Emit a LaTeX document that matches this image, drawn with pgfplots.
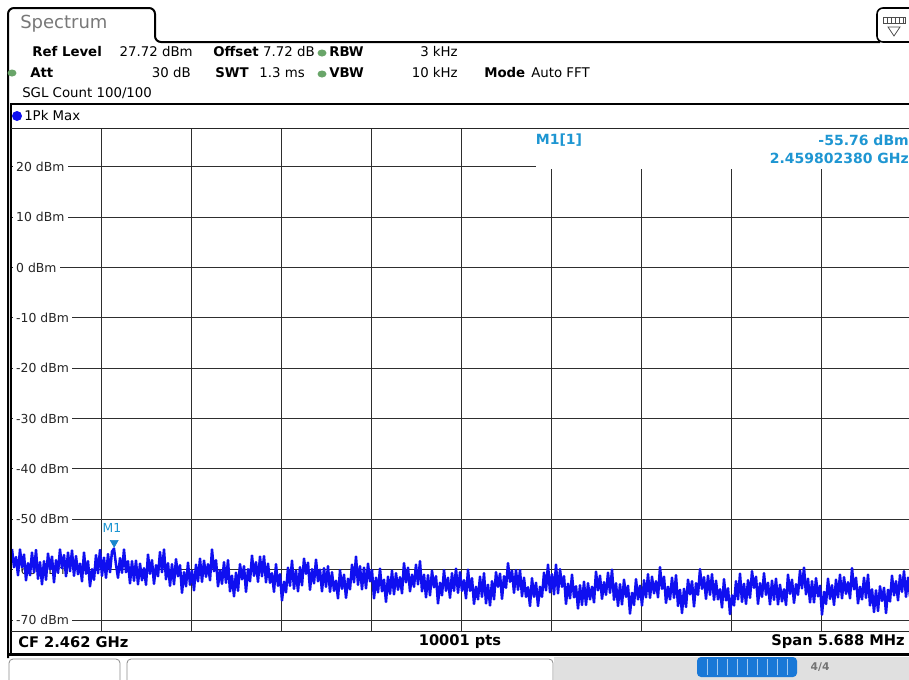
\documentclass[border=0pt]{standalone}
\usepackage{pgfplots}
\pgfplotsset{compat=1.18}
\usepackage{fontspec}
\setmainfont{DejaVu Sans}
\definecolor{traceblue}{RGB}{15,15,240}
\definecolor{mblue}{RGB}{30,150,210}
\definecolor{mtri}{RGB}{25,135,205}
\definecolor{gdot}{RGB}{105,165,105}
\definecolor{tabgray}{RGB}{120,120,120}
\definecolor{barblue}{RGB}{25,120,215}
\newcommand\hf{\fontsize{9.3}{11}\selectfont}
\newcommand\uf{\fontsize{10}{12}\selectfont}
\newcommand\ff{\fontsize{11}{13}\selectfont\bfseries}
\tikzset{ylab/.style={fill=white, anchor=west, inner xsep=2.5pt, inner ysep=1pt, font=\hf, text=black!85}}
\begin{document}
\begin{tikzpicture}
\useasboundingbox (0pt,0pt) rectangle (681.75pt,-509.25pt);
\fill[white] (0pt,0pt) rectangle (681.75pt,-509.25pt);
\begin{axis}[
  at={(9pt,-473.625pt)}, anchor=south west,
  scale only axis, width=674.25pt, height=377.625pt,
  xmin=0, xmax=449.5, ymin=-72.28, ymax=27.72,
  axis line style={draw=none},
  xtick={44.95,89.9,134.85,179.8,224.75,269.7,314.65,359.6,404.55},
  ytick={-70,-60,-50,-40,-30,-20,-10,0,10,20},
  xticklabels={}, yticklabels={},
  major tick length=0pt,
  grid=major,
  major grid style={black!82, line width=0.75pt},
  clip=true,
]
\node[ylab] at (axis cs:0.3,20) {20 dBm};
\node[ylab] at (axis cs:0.3,10) {10 dBm};
\node[ylab] at (axis cs:0.3,0) {0 dBm};
\node[ylab] at (axis cs:0.3,-10) {-10 dBm};
\node[ylab] at (axis cs:0.3,-20) {-20 dBm};
\node[ylab] at (axis cs:0.3,-30) {-30 dBm};
\node[ylab] at (axis cs:0.3,-40) {-40 dBm};
\node[ylab] at (axis cs:0.3,-50) {-50 dBm};
\node[ylab] at (axis cs:0.3,-60) {-60 dBm};
\node[ylab] at (axis cs:0.3,-70) {-70 dBm};
\addplot[traceblue, line width=1.9pt, line join=round] coordinates {
(0,-55.9) (1,-59.5) (2,-57.5) (3,-61.1) (4,-56.0) (5,-59.5) (6,-57.0) (7,-62.1) (8,-58.7) (9,-61.1) (10,-56.6) (11,-60.5) (12,-56.1) (13,-61.8) (14,-58.5) (15,-62.9)
(16,-58.3) (17,-62.0) (18,-56.8) (19,-59.9) (20,-57.4) (21,-62.5) (22,-58.1) (23,-60.6) (24,-56.0) (25,-59.7) (26,-57.1) (27,-61.3) (28,-56.6) (29,-60.3) (30,-56.2) (31,-61.2)
(32,-57.3) (33,-60.9) (34,-58.8) (35,-62.3) (36,-56.6) (37,-60.8) (38,-58.3) (39,-63.3) (40,-59.9) (41,-62.0) (42,-57.1) (43,-60.7) (44,-56.1) (45,-61.2) (46,-57.6) (47,-61.6)
(48,-56.9) (49,-60.5) (50,-56.4) (51,-55.8) (52,-59.0) (53,-61.6) (54,-57.7) (55,-60.6) (56,-56.0) (57,-60.5) (58,-58.3) (59,-62.7) (60,-58.3) (61,-62.2) (62,-58.2) (63,-62.9)
(64,-58.8) (65,-62.1) (66,-59.7) (67,-63.0) (68,-57.0) (69,-60.8) (70,-58.1) (71,-62.8) (72,-59.1) (73,-61.3) (74,-56.5) (75,-60.5) (76,-56.0) (77,-61.9) (78,-58.7) (79,-63.2)
(80,-58.9) (81,-62.9) (82,-57.9) (83,-61.3) (84,-59.1) (85,-64.6) (86,-60.5) (87,-63.3) (88,-58.6) (89,-63.0) (90,-60.2) (91,-64.1) (92,-59.0) (93,-62.3) (94,-57.8) (95,-62.4)
(96,-58.2) (97,-61.4) (98,-58.9) (99,-62.1) (100,-56.0) (101,-60.3) (102,-58.1) (103,-63.3) (104,-60.1) (105,-62.8) (106,-58.5) (107,-62.6) (108,-58.1) (109,-64.3) (110,-61.2) (111,-65.3)
(112,-60.6) (113,-64.2) (114,-58.9) (115,-61.9) (116,-59.3) (117,-64.4) (118,-59.9) (119,-62.3) (120,-57.2) (121,-61.2) (122,-58.5) (123,-62.4) (124,-57.4) (125,-61.3) (126,-57.3) (127,-62.5)
(128,-58.8) (129,-62.6) (130,-60.7) (131,-64.4) (132,-58.9) (133,-63.2) (134,-60.9) (135,-66.1) (136,-62.4) (137,-64.5) (138,-59.6) (139,-63.2) (140,-58.2) (141,-63.8) (142,-60.2) (143,-64.3)
(144,-59.5) (145,-63.1) (146,-57.8) (147,-60.8) (148,-58.6) (149,-64.0) (150,-59.9) (151,-62.7) (152,-58.0) (153,-62.3) (154,-60.0) (155,-64.3) (156,-59.7) (157,-63.4) (158,-59.3) (159,-64.4)
(160,-60.5) (161,-64.2) (162,-62.2) (163,-65.7) (164,-60.1) (165,-63.8) (166,-61.0) (167,-65.6) (168,-61.8) (169,-63.9) (170,-59.0) (171,-62.5) (172,-57.4) (173,-63.0) (174,-59.3) (175,-63.9)
(176,-59.6) (177,-63.7) (178,-58.8) (179,-62.3) (180,-60.1) (181,-65.7) (182,-61.6) (183,-64.5) (184,-59.8) (185,-64.3) (186,-62.0) (187,-66.4) (188,-61.4) (189,-64.8) (190,-60.2) (191,-64.9)
(192,-60.7) (193,-64.0) (194,-61.5) (195,-64.7) (196,-58.7) (197,-62.5) (198,-59.6) (199,-64.3) (200,-61.0) (201,-63.4) (202,-59.0) (203,-62.9) (204,-58.3) (205,-64.3) (206,-61.0) (207,-65.5)
(208,-61.1) (209,-65.1) (210,-60.2) (211,-63.5) (212,-61.3) (213,-66.7) (214,-62.6) (215,-65.1) (216,-60.1) (217,-64.2) (218,-61.6) (219,-65.6) (220,-60.7) (221,-64.2) (222,-59.8) (223,-64.6)
(224,-60.5) (225,-64.2) (226,-62.1) (227,-65.7) (228,-60.0) (229,-64.2) (230,-61.7) (231,-66.8) (232,-63.4) (233,-65.9) (234,-61.4) (235,-65.4) (236,-60.7) (237,-66.7) (238,-63.0) (239,-67.1)
(240,-62.3) (241,-65.9) (242,-60.5) (243,-63.4) (244,-60.8) (245,-65.8) (246,-61.3) (247,-63.6) (248,-58.7) (249,-62.4) (250,-60.2) (251,-64.6) (252,-60.1) (253,-64.0) (254,-60.1) (255,-65.3)
(256,-61.6) (257,-65.4) (258,-63.5) (259,-67.2) (260,-61.7) (261,-65.4) (262,-62.6) (263,-67.2) (264,-63.4) (265,-65.4) (266,-60.6) (267,-64.1) (268,-59.0) (269,-64.5) (270,-60.9) (271,-64.9)
(272,-59.0) (273,-64.7) (274,-59.9) (275,-63.4) (276,-61.3) (277,-66.8) (278,-62.8) (279,-65.7) (280,-61.0) (281,-65.5) (282,-63.3) (283,-67.7) (284,-63.1) (285,-67.0) (286,-62.4) (287,-67.0)
(288,-62.7) (289,-65.9) (290,-63.4) (291,-66.5) (292,-60.4) (293,-64.1) (294,-61.2) (295,-65.8) (296,-62.5) (297,-65.0) (298,-60.6) (299,-64.6) (300,-60.0) (301,-66.0) (302,-62.7) (303,-67.2)
(304,-62.9) (305,-66.9) (306,-62.0) (307,-65.4) (308,-63.2) (309,-68.7) (310,-64.6) (311,-67.0) (312,-61.9) (313,-65.9) (314,-63.2) (315,-67.1) (316,-62.1) (317,-65.5) (318,-60.9) (319,-65.6)
(320,-61.4) (321,-64.7) (322,-62.3) (323,-65.5) (324,-59.5) (325,-63.8) (326,-61.4) (327,-66.6) (328,-63.4) (329,-65.9) (330,-61.6) (331,-65.6) (332,-61.1) (333,-67.2) (334,-64.0) (335,-68.6)
(336,-63.8) (337,-67.4) (338,-62.0) (339,-64.9) (340,-62.3) (341,-67.3) (342,-62.7) (343,-65.0) (344,-59.9) (345,-63.8) (346,-61.5) (347,-65.8) (348,-61.2) (349,-65.0) (350,-60.9) (351,-66.0)
(352,-62.2) (353,-65.9) (354,-63.9) (355,-67.5) (356,-61.9) (357,-66.1) (358,-63.7) (359,-68.8) (360,-65.1) (361,-67.1) (362,-62.3) (363,-65.9) (364,-60.8) (365,-66.4) (366,-62.8) (367,-66.8)
(368,-62.1) (369,-65.6) (370,-60.3) (371,-63.6) (372,-61.4) (373,-66.8) (374,-62.7) (375,-65.4) (376,-60.7) (377,-65.0) (378,-62.6) (379,-66.9) (380,-62.2) (381,-66.0) (382,-61.8) (383,-66.9)
(384,-63.0) (385,-66.3) (386,-63.9) (387,-67.0) (388,-61.0) (389,-64.8) (390,-62.0) (391,-66.6) (392,-62.9) (393,-65.0) (394,-60.2) (395,-63.7) (396,-59.6) (397,-64.9) (398,-61.8) (399,-66.5)
(400,-62.3) (401,-66.5) (402,-61.7) (403,-65.3) (404,-63.2) (405,-68.9) (406,-64.4) (407,-66.8) (408,-61.8) (409,-65.8) (410,-63.1) (411,-67.0) (412,-62.0) (413,-65.5) (414,-61.0) (415,-65.7)
(416,-61.5) (417,-64.8) (418,-62.5) (419,-65.7) (420,-59.7) (421,-63.9) (422,-61.6) (423,-66.7) (424,-63.4) (425,-65.9) (426,-61.6) (427,-65.6) (428,-61.0) (429,-67.1) (430,-63.9) (431,-68.4)
(432,-64.1) (433,-68.2) (434,-63.3) (435,-66.2) (436,-63.6) (437,-68.6) (438,-64.0) (439,-66.3) (440,-61.2) (441,-65.1) (442,-62.3) (443,-66.1) (444,-61.1) (445,-64.4) (446,-60.3) (447,-65.4)
(448,-61.6) (449,-65.3)
};
\addplot[only marks, mark=triangle*, mark size=3.4pt, mark options={yshift=4.2pt, rotate=180, fill=mtri, draw=mtri}] coordinates {(51.1,-55.76)};
\node[text=mblue, font=\hf] at (axis cs:50,-51.8) {M1};
\end{axis}
\begin{scope}[x=0.75pt,y=-0.75pt]
% marker info box
\fill[white] (536,129) rectangle (915,168.5);
\node[text=mblue, font=\fontsize{10.5}{12}\selectfont\bfseries] at (559,140) {M1[1]};
\node[text=mblue, font=\fontsize{10.5}{12}\selectfont\bfseries, anchor=east, inner xsep=0pt] at (909,140) {-55.76 dBm};
\node[text=mblue, font=\fontsize{10.5}{12}\selectfont\bfseries, anchor=east, inner xsep=0pt] at (909,158) {2.459802380 GHz};
% frames
\draw[line width=1.5pt, rounded corners=4.5pt] (8,658) -- (8,8) -- (155,8) -- (155,42) -- (880,42);
\draw[line width=1.2pt, rounded corners=4.5pt] (915,42) -- (877,42) -- (877,8) -- (915,8);
\draw[black!70, line width=0.7pt] (883,17) rectangle (905,23);
\foreach \xx in {887,891,895,899,903} \draw[black!70, line width=0.5pt] (\xx,17) -- (\xx,23);
\draw[black!70, line width=0.6pt] (888,27) -- (900,27) -- (894,36) -- cycle;
\draw[line width=1.8pt] (11,656) -- (11,104) -- (915,104);
\draw[black!85, line width=0.9pt] (11,128.5) -- (915,128.5);
\draw[black!85, line width=0.9pt] (11,631.5) -- (915,631.5);
\draw[line width=2.3pt] (8,654.5) -- (915,654.5);
% bottom tabs
\fill[black!12] (554,657) rectangle (915,680);
\draw[black!45, line width=0.6pt, rounded corners=3pt] (9,685) -- (9,659) -- (120,659) -- (120,685);
\draw[black!45, line width=0.6pt, rounded corners=3pt] (127,685) -- (127,659) -- (553,659) -- (553,685);
\fill[barblue, rounded corners=3pt] (697,657) rectangle (797,677);
\foreach \xx in {707,717,727,737,747,757,767,777,787} \draw[white!60!barblue, line width=0.5pt] (\xx,659) -- (\xx,675);
\node[text=black!55, font=\fontsize{8}{9}\selectfont\bfseries, anchor=west] at (806,667) {4/4};
% tab title
\node[text=tabgray, font=\fontsize{13.5}{15}\selectfont, anchor=west, inner xsep=0pt] at (20,24) {Spectrum};
% header row 1
\node[font=\uf\bfseries, anchor=west, inner sep=0pt] at (32,52) {Ref Level};
\node[font=\uf, anchor=east, inner sep=0pt] at (193,52) {27.72 dBm};
\node[font=\uf\bfseries, anchor=west, inner sep=0pt] at (213,52) {Offset};
\node[font=\uf, anchor=east, inner sep=0pt] at (315,52) {7.72 dB};
\fill[gdot] (322,53) ellipse (4.5 and 3.5);
\node[font=\uf\bfseries, anchor=west, inner sep=0pt] at (329,52) {RBW};
\node[font=\uf, anchor=east, inner sep=0pt] at (458,52) {3 kHz};
% header row 2
\fill[gdot] (12,73) ellipse (4.5 and 3.5);
\node[font=\uf\bfseries, anchor=west, inner sep=0pt] at (30,73) {Att};
\node[font=\uf, anchor=east, inner sep=0pt] at (191,73) {30 dB};
\node[font=\uf\bfseries, anchor=west, inner sep=0pt] at (215,73) {SWT};
\node[font=\uf, anchor=east, inner sep=0pt] at (305,73) {1.3 ms};
\fill[gdot] (322,74) ellipse (4.5 and 3.5);
\node[font=\uf\bfseries, anchor=west, inner sep=0pt] at (329,73) {VBW};
\node[font=\uf, anchor=east, inner sep=0pt] at (458,73) {10 kHz};
\node[font=\uf\bfseries, anchor=west, inner sep=0pt] at (484,73) {Mode};
\node[font=\uf, anchor=west, inner sep=0pt] at (531,73) {Auto FFT};
% header row 3
\node[font=\uf, anchor=west, inner sep=0pt] at (22,93) {SGL Count 100/100};
% trace label
\fill[traceblue] (17,116) circle (5);
\node[font=\uf, anchor=west, inner sep=0pt] at (24,116) {1Pk Max};
% footer
\node[font=\ff, anchor=west, inner sep=0pt] at (18,642) {CF 2.462 GHz};
\node[font=\ff, inner sep=0pt] at (460,642) {10001 pts};
\node[font=\ff, anchor=east, inner sep=0pt] at (905,642) {Span 5.688 MHz};
\end{scope}
\end{tikzpicture}
\end{document}
